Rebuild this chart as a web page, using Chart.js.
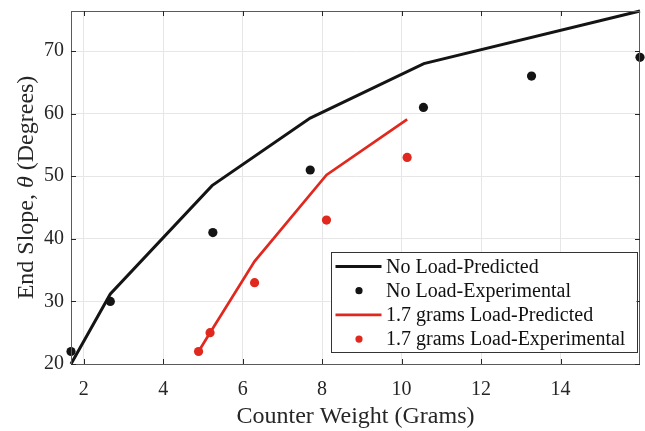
<!DOCTYPE html>
<html>
<head>
<meta charset="utf-8">
<script src="https://cdn.jsdelivr.net/npm/chart.js@4"></script>
<style>
  html, body { margin: 0; padding: 0; background: #fff; }
  #wrap { width: 645px; height: 431px; }
</style>
</head>
<body>
<div id="wrap"><canvas id="slopeChart" width="645" height="431"></canvas></div>
<script>
// counter weight (grams) vs end slope (degrees)
const noLoadPredX = [1.68, 2.67, 5.23, 7.7, 10.56, 16];
const noLoadPredY = [20, 31.2, 48.5, 59.3, 68.0, 76.4];
const noLoadExpX = [1.68, 2.67, 5.25, 7.7, 10.55, 13.27, 16];
const noLoadExpY = [22, 30, 41, 51, 61, 66, 69];
const loadPredX = [4.89, 5.18, 6.30, 8.11, 10.14];
const loadPredY = [22, 25, 36.4, 50.2, 59.1];
const loadExpX = [4.89, 5.18, 6.30, 8.11, 10.14];
const loadExpY = [22, 25, 33, 43, 53];

const xTicks = [2, 4, 6, 8, 10, 12, 14];
const yTicks = [20, 30, 40, 50, 60, 70];

const BLACK = '#141414';
const RED = '#e0281e';
const AXIS = '#262626';
const SERIF = "'Liberation Serif', 'Times New Roman', serif";

function toPoints(xs, ys) {
  return xs.map((x, i) => ({ x: x, y: ys[i] }));
}

// matlab-style box with inward tick marks
const boxPlugin = {
  id: 'box',
  afterDatasetsDraw(chart) {
    const ctx = chart.ctx;
    const a = chart.chartArea;
    const xs = chart.scales.x, ys = chart.scales.y;
    ctx.save();
    ctx.strokeStyle = '#5a5a5a';
    ctx.lineWidth = 1;
    ctx.strokeRect(Math.round(a.left) + 0.5, Math.round(a.top) + 0.5,
      Math.round(a.right - a.left) - 1, Math.round(a.bottom - a.top));
    ctx.strokeStyle = AXIS;
    ctx.beginPath();
    xs.ticks.forEach(t => {
      const px = Math.round(xs.getPixelForValue(t.value)) + 0.5;
      ctx.moveTo(px, a.bottom); ctx.lineTo(px, a.bottom - 5);
      ctx.moveTo(px, a.top); ctx.lineTo(px, a.top + 5);
    });
    ys.ticks.forEach(t => {
      const py = Math.round(ys.getPixelForValue(t.value)) + 0.5;
      ctx.moveTo(a.left, py); ctx.lineTo(a.left + 5, py);
      ctx.moveTo(a.right, py); ctx.lineTo(a.right - 5, py);
    });
    ctx.stroke();
    ctx.restore();
  },
  afterDraw(chart) {
    const ctx = chart.ctx;
    const a = chart.chartArea;
    ctx.save();
    ctx.fillStyle = AXIS;
    // x title
    ctx.font = '24px ' + SERIF;
    ctx.textAlign = 'center';
    ctx.textBaseline = 'alphabetic';
    ctx.fillText('Counter Weight (Grams)', (a.left + a.right) / 2, 423);
    // y title, theta in italic
    const parts = [
      { t: 'End Slope, ', f: '24px ' + SERIF },
      { t: 'θ', f: 'italic 24px ' + SERIF },
      { t: ' (Degrees)', f: '24px ' + SERIF }
    ];
    let total = 0;
    parts.forEach(p => { ctx.font = p.f; p.w = ctx.measureText(p.t).width; total += p.w; });
    ctx.translate(33, (a.top + a.bottom) / 2);
    ctx.rotate(-Math.PI / 2);
    ctx.textAlign = 'left';
    let cx = -total / 2;
    parts.forEach(p => { ctx.font = p.f; ctx.fillText(p.t, cx, 0); cx += p.w; });
    ctx.restore();
  }
};

// legend box in the lower right of the plot
const legendBox = {
  id: 'legendBox',
  afterDraw(chart) {
    const ctx = chart.ctx;
    const a = chart.chartArea;
    const w = 306, h = 100;
    const left = a.right - 3.5 - w, top = a.bottom - 12 - h;
    ctx.save();
    ctx.fillStyle = '#fff';
    ctx.fillRect(left, top, w, h);
    ctx.strokeStyle = '#333';
    ctx.lineWidth = 1;
    ctx.strokeRect(Math.round(left) + 0.5, Math.round(top) + 0.5, w, h);
    ctx.font = '20px ' + SERIF;
    ctx.textBaseline = 'middle';
    ctx.textAlign = 'left';
    chart.data.datasets.forEach((ds, i) => {
      const cy = top + 14.5 + i * 24.2;
      if (ds.showLine) {
        ctx.strokeStyle = ds.borderColor;
        ctx.lineWidth = ds.borderWidth;
        ctx.beginPath();
        ctx.moveTo(left + 5, cy);
        ctx.lineTo(left + 51, cy);
        ctx.stroke();
      } else {
        ctx.fillStyle = ds.pointBackgroundColor;
        ctx.beginPath();
        ctx.arc(left + 28.5, cy, 3.6, 0, Math.PI * 2);
        ctx.fill();
      }
      ctx.fillStyle = '#111';
      ctx.fillText(ds.label, left + 55.5, cy + 1);
    });
    ctx.restore();
  }
};

function slopeChart() {
  new Chart('slopeChart', {
    type: 'scatter',
    data: {
      datasets: [
        {
          label: 'No Load-Predicted',
          data: toPoints(noLoadPredX, noLoadPredY),
          showLine: true,
          borderColor: BLACK,
          borderWidth: 3,
          pointRadius: 0,
          clip: false,
          order: 4
        },
        {
          label: 'No Load-Experimental',
          data: toPoints(noLoadExpX, noLoadExpY),
          showLine: false,
          pointBackgroundColor: BLACK,
          pointBorderWidth: 0,
          pointRadius: 4.6,
          clip: false,
          order: 3
        },
        {
          label: '1.7 grams Load-Predicted',
          data: toPoints(loadPredX, loadPredY),
          showLine: true,
          borderColor: RED,
          borderWidth: 2.7,
          pointRadius: 0,
          clip: false,
          order: 2
        },
        {
          label: '1.7 grams Load-Experimental',
          data: toPoints(loadExpX, loadExpY),
          showLine: false,
          pointBackgroundColor: RED,
          pointBorderWidth: 0,
          pointRadius: 4.6,
          clip: false,
          order: 1
        }
      ]
    },
    options: {
      responsive: false,
      animation: false,
      layout: { padding: { left: 0, top: 11, right: 5, bottom: 0 } },
      plugins: {
        legend: { display: false },
        tooltip: { enabled: false }
      },
      scales: {
        x: {
          type: 'linear',
          min: 1.68,
          max: 16,
          afterBuildTicks: s => { s.ticks = xTicks.map(v => ({ value: v })); },
          afterFit: s => { s.height = 67; s.paddingLeft = 0; s.paddingRight = 0; },
          grid: { color: '#e6e6e6', drawTicks: false },
          border: { display: false },
          ticks: {
            color: AXIS,
            padding: 14,
            maxRotation: 0,
            font: { family: SERIF, size: 20 }
          }
        },
        y: {
          type: 'linear',
          min: 20,
          max: 76.4,
          afterBuildTicks: s => { s.ticks = yTicks.map(v => ({ value: v })); },
          afterFit: s => { s.width = 71; s.paddingTop = 0; s.paddingBottom = 0; },
          grid: { color: '#e6e6e6', drawTicks: false },
          border: { display: false },
          ticks: {
            color: AXIS,
            padding: 7,
            font: { family: SERIF, size: 20 }
          }
        }
      }
    },
    plugins: [boxPlugin, legendBox]
  });
}

slopeChart();
</script>
</body>
</html>
